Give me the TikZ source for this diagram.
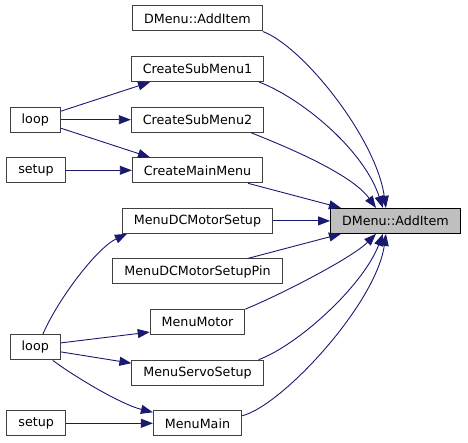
\documentclass[tikz,border=0pt]{standalone}
\usepackage{fontspec}
\setmainfont{DejaVu Sans}
\usetikzlibrary{arrows.meta,positioning,calc}
\definecolor{edgeBlue}{HTML}{191970}
\definecolor{nodeGrey}{HTML}{BFBFBF}
\definecolor{lineGrey}{HTML}{404040}
\tikzset{
  fn/.style={rectangle, draw=lineGrey, line width=1pt, fill=white, minimum height=25pt, inner xsep=11.5pt, inner ysep=0pt, font=\fontsize{12.7}{15}\selectfont},
  focus/.style={fn, draw=black, fill=nodeGrey},
  call/.style={-{Triangle[length=12pt,width=9pt]}, draw=edgeBlue, line width=0.9pt}
}

\begin{document}
\begin{tikzpicture}[node distance=24.6pt]
  \useasboundingbox (-197.5pt,18.5pt) rectangle (270.5pt,-424.5pt);
  % callers, middle column
  \node[fn] (dtop) at (0,0) {DMenu::AddItem};
  \node[fn, below=of dtop] (sub1) {CreateSubMenu1};
  \node[fn, below=of sub1] (sub2) {CreateSubMenu2};
  \node[fn, below=of sub2] (mainmenu) {CreateMainMenu};
  \node[fn, below=of mainmenu] (dcsetup) {MenuDCMotorSetup};
  \node[fn, below=of dcsetup] (dcpin) {MenuDCMotorSetupPin};
  \node[fn, below=of dcpin] (motor) {MenuMotor};
  \node[fn, below=of motor] (servo) {MenuServoSetup};
  \node[fn, below=of servo] (mmain) {MenuMain};
  % the function itself
  \node[focus, right=57pt of dcsetup] (main) {DMenu::AddItem};
  % left column
  \node[fn, left=70pt of sub2] (ltop) {loop};
  \node[fn, left=66pt of mainmenu] (stop) {setup};
  \coordinate (mid) at ($(motor)!0.5!(servo)$);
  \node[fn] (lbot) at (ltop |- mid) {loop};
  \node[fn, left=87pt of mmain] (sbot) {setup};
  % calls into DMenu::AddItem
  \draw[call] (dtop.south east) .. controls +(40pt,-15pt) and +(-10pt,70pt) .. ([xshift=-9.5pt]main.north);
  \draw[call] ([xshift=-5pt]sub1.south east) .. controls +(40pt,-15pt) and +(-20pt,60pt) .. ([xshift=-12.5pt]main.north);
  \draw[call] ([xshift=53.5pt]sub2.south) .. controls +(30pt,-12pt) and +(-25pt,35pt) .. ([xshift=-19.5pt]main.north);
  \draw[call] ([xshift=50.5pt]mainmenu.south) -- ([xshift=-54.5pt]main.north);
  \draw[call] (dcsetup.east) -- (main.west);
  \draw[call] ([xshift=50pt]dcpin.north) -- ([xshift=-54.5pt]main.south);
  \draw[call] (motor.north east) .. controls +(30pt,12pt) and +(-25pt,-25pt) .. ([xshift=-19.5pt]main.south);
  \draw[call] ([xshift=-5pt]servo.north east) .. controls +(40pt,15pt) and +(-20pt,-52pt) .. ([xshift=-12.5pt]main.south);
  \draw[call] ([yshift=7.5pt]mmain.east) .. controls +(40pt,10pt) and +(-10pt,-70pt) .. ([xshift=-9.5pt]main.south);
  % calls from loop and setup
  \draw[call] ([yshift=8.5pt]ltop.east) -- ([xshift=-47.5pt]sub1.south);
  \draw[call] (ltop.east) -- (sub2.west);
  \draw[call] ([yshift=-8.5pt]ltop.east) -- ([xshift=-47.5pt]mainmenu.north);
  \draw[call] (stop.east) -- (mainmenu.west);
  \draw[call] ([xshift=7.5pt]lbot.north) .. controls +(15pt,35pt) and +(-30pt,-14pt) .. ([xshift=5pt]dcsetup.south west);
  \draw[call] ([yshift=4.5pt]lbot.east) -- ([yshift=-10pt]motor.west);
  \draw[call] ([yshift=-4.5pt]lbot.east) -- ([yshift=9.5pt]servo.west);
  \draw[call] ([xshift=17.5pt]lbot.south) .. controls +(23pt,-17pt) and +(-32pt,8pt) .. ([yshift=-2pt]mmain.north west);
  \draw[call] (sbot.east) -- (mmain.west);
\end{tikzpicture}
\end{document}
